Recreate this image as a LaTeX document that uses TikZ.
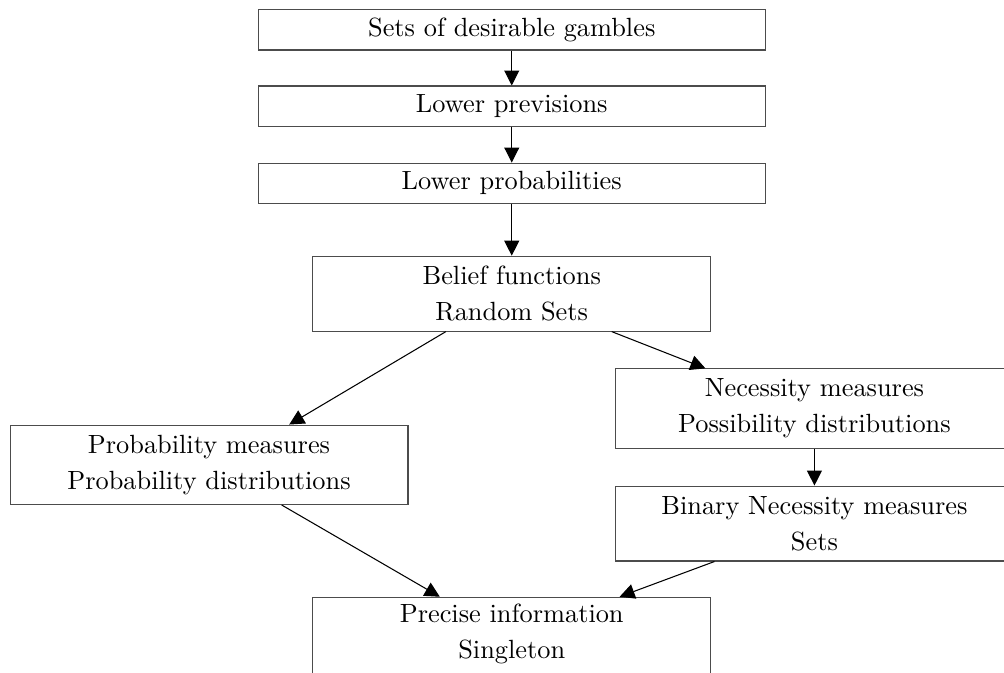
\documentclass[tikz,border=0pt]{standalone}
\usepackage{tikz}
\usetikzlibrary{arrows.meta,positioning}

\begin{document}
\begin{tikzpicture}[
	> = {Triangle[length=2mm, width=2mm]}, % arrow head style
	thin, % line style
	box/.style={rectangle, draw=black!70, minimum width=6.77cm, minimum height=0.534cm, inner sep=0pt},  % one line
	wide/.style={box, minimum width=5.31cm, minimum height=1cm, align=center},                           % two lines
	]
	\useasboundingbox (0,0) rectangle (13.40,-8.97);

	% Nodes and their relative positions
	\node[box] (sdg) at (6.83,-0.40) {Sets of desirable gambles};
	\node[box] (lprev) [below = 0.467 of sdg] {Lower previsions};
	\node[box] (lprob) [below = 0.48 of lprev] {Lower probabilities};
	\node[wide] (bel)  [below = 0.695 of lprob] {Belief functions\\[1.7pt] Random Sets};
	\node[wide, minimum height=1.06cm] (prob) [below = 1.24 of bel, xshift=-4.04cm] {Probability measures\\[1.7pt] Probability distributions};
	\node[wide, minimum height=1.06cm] (nec)  [below = 0.49 of bel, xshift=4.04cm] {Necessity measures\\[1.7pt] Possibility distributions};
	\node[wide] (bin)  [below = 0.49 of nec] {Binary Necessity measures\\[1.7pt] Sets};
	\node[wide, minimum height=1.1cm, text depth=0.2cm] (prec) [below = 0.47 of bin, xshift=-4.04cm] {Precise information\\[1.7pt] Singleton};

	% Paths connecting nodes
	\draw[->] (sdg) -- (lprev);
	\draw[->] (lprev) -- (lprob);
	\draw[->] (lprob) -- (bel);
	\draw[->] ([xshift=-0.88cm]bel.south) -- ([xshift=1.07cm]prob.north);
	\draw[->] ([xshift=1.335cm]bel.south) -- ([xshift=-1.455cm]nec.north);
	\draw[->] (nec) -- (bin);
	\draw[->] ([xshift=0.97cm]prob.south) -- ([xshift=-0.96cm]prec.north);
	\draw[->] ([xshift=-1.335cm]bin.south) -- ([xshift=1.44cm]prec.north);

\end{tikzpicture}
\end{document}
